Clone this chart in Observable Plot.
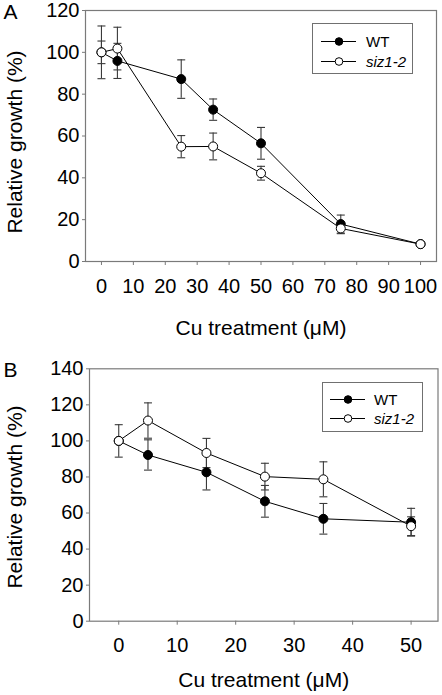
<!DOCTYPE html>
<html>
<head>
<meta charset="utf-8">
<script src="https://cdn.jsdelivr.net/npm/d3@7"></script>
<script src="https://cdn.jsdelivr.net/npm/@observablehq/plot@0.6"></script>
<style>
  html, body { margin: 0; padding: 0; background: #fff; }
  #wrap { position: relative; width: 442px; height: 695px; font-family: "Liberation Sans", Arial, sans-serif; }
  .panel { position: absolute; left: 0; }
  .legend { position: absolute; border: 1px solid #707070; background: #fff; box-sizing: border-box; }
</style>
</head>
<body>
<div id="wrap"></div>
<script>
// ---------- Data ----------
const seriesNames = ["WT", "siz1-2"];
const seriesFills = ["black", "white"];

// Panel A
const concA = [0, 5, 25, 35, 50, 75, 100];
const wtA = [100, 95.9, 87.2, 72.6, 56.5, 17.9, 8.3];
const wtAErr = [5.4, 8.4, 9.2, 5.1, 7.6, 4.3, 0.6];
const sizA = [100, 101.8, 54.9, 55.0, 42.2, 15.8, 8.3];
const sizAErr = [12.6, 10.2, 5.3, 6.4, 3.3, 2.5, 0.6];
const xTicksA = [0, 10, 20, 30, 40, 50, 60, 70, 80, 90, 100];
const yTicksA = [0, 20, 40, 60, 80, 100, 120];

// Panel B
const concB = [0, 5, 15, 25, 35, 50];
const wtB = [100, 92.2, 82.6, 66.5, 56.8, 54.9];
const wtBErr = [0, 8.4, 9.8, 8.8, 8.5, 7.7];
const sizB = [100, 111.3, 93.3, 80.2, 78.7, 52.7];
const sizBErr = [9.0, 9.8, 8.1, 7.4, 9.7, 5.2];
const xTicksB = [0, 10, 20, 30, 40, 50];
const yTicksB = [0, 20, 40, 60, 80, 100, 120, 140];

const xTitle = "Cu treatment (\u03bcM)";
const yTitle = "Relative growth (%)";

// ---------- Helpers ----------
const FONT = "'Liberation Sans', Arial, sans-serif";
const capSymbol = {
  draw(ctx, size) {
    const r = Math.sqrt(size / Math.PI);
    ctx.moveTo(-r, 0);
    ctx.lineTo(r, 0);
  }
};

function rows(conc, vals, errs, name) {
  return conc.map((x, i) => ({x, y: vals[i], e: errs[i], s: name}));
}

function makePanel(cfg) {
  const wt = rows(cfg.conc, cfg.wt, cfg.wtErr, seriesNames[0]);
  const siz = rows(cfg.conc, cfg.siz, cfg.sizErr, seriesNames[1]);
  const all = wt.concat(siz);
  const errCol = "#3a3a3a";
  const axisCol = "#7a7a7a";
  const plot = Plot.plot({
    width: 442,
    height: cfg.height,
    marginTop: cfg.mt,
    marginBottom: cfg.mb,
    marginLeft: cfg.ml,
    marginRight: cfg.mr,
    style: {fontFamily: FONT, background: "transparent", overflow: "visible"},
    x: {domain: cfg.xDomain},
    y: {domain: cfg.yDomain},
    marks: [
      Plot.frame({stroke: axisCol, strokeWidth: 1.2}),
      Plot.axisX({ticks: cfg.xTicks, tickSize: 4, tickPadding: 13, fontSize: 20, stroke: axisCol, fill: "black", label: null}),
      Plot.axisY({ticks: cfg.yTicks, tickSize: 3, tickPadding: 3, fontSize: 20, stroke: axisCol, fill: "black", label: null}),
      // error bars
      Plot.ruleX(all, {x: "x", y1: d => d.y - d.e, y2: d => d.y + d.e, stroke: errCol, strokeWidth: 1.1}),
      Plot.dot(all, {x: "x", y: d => d.y + d.e, symbol: capSymbol, r: 4, stroke: errCol, strokeWidth: 1.1, fill: "none"}),
      Plot.dot(all, {x: "x", y: d => d.y - d.e, symbol: capSymbol, r: 4, stroke: errCol, strokeWidth: 1.1, fill: "none"}),
      // series
      Plot.line(wt, {x: "x", y: "y", stroke: "black", strokeWidth: 1}),
      Plot.line(siz, {x: "x", y: "y", stroke: "black", strokeWidth: 1}),
      Plot.dot(wt, {x: "x", y: "y", r: 4.5, fill: seriesFills[0], stroke: "black", strokeWidth: 1}),
      Plot.dot(siz, {x: "x", y: "y", r: 4.5, fill: seriesFills[1], stroke: "black", strokeWidth: 1}),
      // titles
      Plot.text([xTitle], {frameAnchor: "bottom", dy: cfg.xTitleDy, fontSize: 21, lineAnchor: "middle", fill: "black"}),
      Plot.text([yTitle], {frameAnchor: "left", rotate: -90, dx: cfg.yTitleDx, dy: cfg.yTitleDy, fontSize: 21, lineAnchor: "middle", textAnchor: "middle", fill: "black"}),
      Plot.text([cfg.letter], {frameAnchor: "top-left", dx: cfg.letterDx, dy: cfg.letterDy, fontSize: 21, textAnchor: "start", lineAnchor: "middle", fill: "black"})
    ]
  });
  return plot;
}

function makeLegend(box) {
  const div = document.createElement("div");
  div.className = "legend";
  div.style.left = box.left + "px";
  div.style.top = box.top + "px";
  div.style.width = box.w + "px";
  div.style.height = box.h + "px";
  const svg = d3.create("svg").attr("width", box.w - 2).attr("height", box.h - 2)
    .style("position", "absolute").style("left", "0").style("top", "0");
  seriesNames.forEach((name, i) => {
    const y = box.rowY[i];
    const g = svg.append("g");
    g.append("line").attr("x1", box.lx1).attr("x2", box.lx2).attr("y1", y).attr("y2", y)
      .attr("stroke", "black").attr("stroke-width", 1);
    g.append("circle").attr("cx", box.mx).attr("cy", y).attr("r", 3.8)
      .attr("fill", seriesFills[i]).attr("stroke", "black").attr("stroke-width", 1);
    g.append("text").attr("x", box.tx).attr("y", y).attr("dy", "0.36em")
      .attr("font-family", FONT).attr("font-size", 15)
      .attr("font-style", i === 1 ? "italic" : "normal")
      .text(name);
  });
  div.appendChild(svg.node());
  return div;
}

const wrap = document.getElementById("wrap");

// Panel A
const pA = makePanel({
  conc: concA, wt: wtA, wtErr: wtAErr, siz: sizA, sizErr: sizAErr,
  xTicks: xTicksA, yTicks: yTicksA, xDomain: [-5, 105], yDomain: [0, 120],
  height: 340, mt: 10, mb: 79, ml: 85, mr: 6,
  xTitleDy: 67, yTitleDx: -70, yTitleDy: 6, letter: "A", letterDx: -82, letterDy: 2
});
const dA = document.createElement("div");
dA.className = "panel"; dA.style.top = "0px";
dA.appendChild(pA);
wrap.appendChild(dA);
wrap.appendChild(makeLegend({left: 312, top: 23, w: 101, h: 51, rowY: [17.5, 37.5], lx1: 8, lx2: 43, mx: 26, tx: 53}));

// Panel B
const pB = makePanel({
  conc: concB, wt: wtB, wtErr: wtBErr, siz: sizB, sizErr: sizBErr,
  xTicks: xTicksB, yTicks: yTicksB, xDomain: [-5, 54.6], yDomain: [0, 140],
  height: 355, mt: 28.3, mb: 74.3, ml: 89, mr: 4.5,
  xTitleDy: 59.5, yTitleDx: -74, yTitleDy: 2, letter: "B", letterDx: -86, letterDy: 1
});
const dB = document.createElement("div");
dB.className = "panel"; dB.style.top = "340px";
dB.appendChild(pB);
wrap.appendChild(dB);
wrap.appendChild(makeLegend({left: 322, top: 382, w: 101, h: 50, rowY: [16.5, 35.5], lx1: 7, lx2: 42, mx: 25, tx: 51}));
</script>
</body>
</html>
